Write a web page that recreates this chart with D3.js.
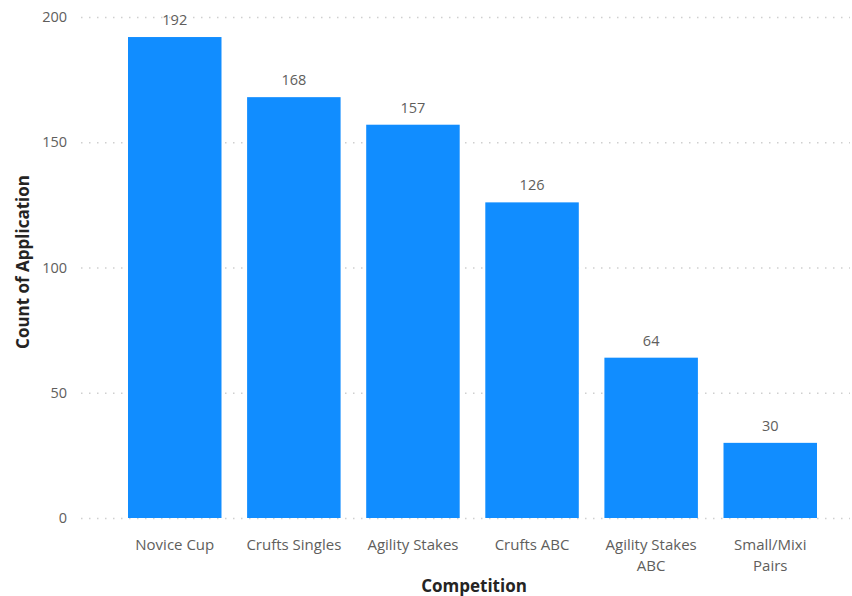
<!DOCTYPE html>
<html><head><meta charset="utf-8">
<script src="https://cdn.jsdelivr.net/npm/d3@7"></script>
<style>
body{margin:0;background:#fff;}
text{font-family:"Open Sans","Noto Sans",sans-serif;}
</style></head>
<body><svg id="c" width="852" height="596"></svg>
<script>
const categories = ["Novice Cup","Crufts Singles","Agility Stakes","Crufts ABC","Agility Stakes ABC","Small/Mixi Pairs"];
const categoryLines = [["Novice Cup"],["Crufts Singles"],["Agility Stakes"],["Crufts ABC"],["Agility Stakes","ABC"],["Small/Mixi","Pairs"]];
const values = [192,168,157,126,64,30];
const yTicks = [0,50,100,150,200];

const svg = d3.select("#c");
const x = d3.scaleBand().domain(categories).range([115.2,829.8]).paddingInner(0.215).paddingOuter(0.1075);
const y = d3.scaleLinear().domain([0,200]).range([518,17]);

// gridlines
svg.append("g").selectAll("line").data(yTicks).join("line")
  .attr("x1",81).attr("x2",850)
  .attr("y1",d=>y(d)+0.5).attr("y2",d=>y(d)+0.5)
  .attr("stroke","#cfcfcf").attr("stroke-width",1.5).attr("stroke-dasharray","1.5,6.5");

// y axis
const ya = svg.append("g").attr("transform","translate(67,0)")
  .call(d3.axisLeft(y).tickValues(yTicks).tickSize(0).tickPadding(0));
ya.select(".domain").remove();
ya.selectAll("text").attr("fill","#605E5C").style("font-size","14.5px");

// bars
svg.append("g").selectAll("rect").data(values).join("rect")
  .attr("x",(d,i)=>x(categories[i])).attr("width",x.bandwidth())
  .attr("y",d=>y(d)).attr("height",d=>y(0)-y(d)).attr("fill","#118DFF");

// data labels
svg.append("g").selectAll("text").data(values).join("text")
  .attr("x",(d,i)=>x(categories[i])+x.bandwidth()/2).attr("y",d=>y(d)-12)
  .attr("text-anchor","middle").attr("fill","#605E5C").style("font-size","14.5px").text(d=>d);

// x labels
const xl = svg.append("g").selectAll("text").data(categories).join("text")
  .attr("x",d=>x(d)+x.bandwidth()/2).attr("y",550)
  .attr("text-anchor","middle").attr("fill","#605E5C").style("font-size","15px");
xl.each(function(d,i){
  d3.select(this).selectAll("tspan").data(categoryLines[i]).join("tspan")
    .attr("x",x(d)+x.bandwidth()/2).attr("dy",(t,j)=>j===0?0:21).text(t=>t);
});

// axis titles
svg.append("text").attr("x",474).attr("y",592).attr("text-anchor","middle")
  .attr("fill","#252423").style("font-size","17px").style("font-weight","bold").text("Competition");
svg.append("text").attr("transform","translate(29,262) rotate(-90)").attr("text-anchor","middle")
  .attr("fill","#252423").style("font-size","17px").style("font-weight","bold").text("Count of Application");
</script></body></html>
